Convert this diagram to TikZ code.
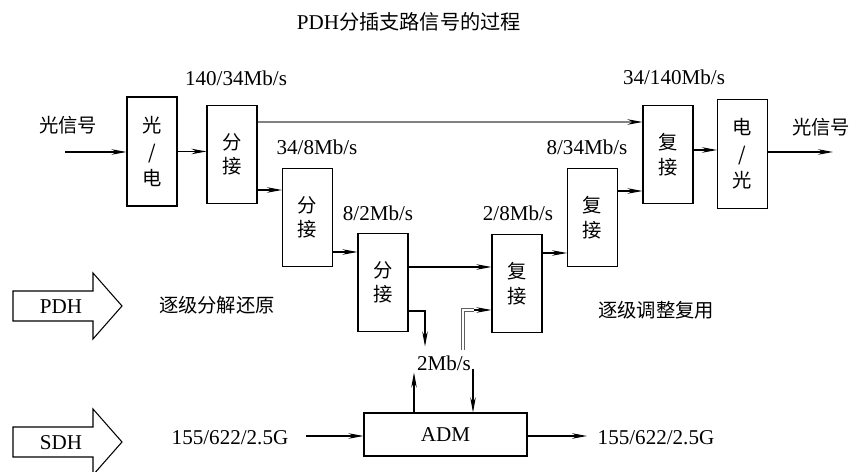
\documentclass[tikz,border=0pt]{standalone}
\usepackage{fontspec}
\setmainfont{Liberation Serif}
\newfontfamily\cjk{Noto Sans CJK SC}
\usetikzlibrary{positioning,arrows.meta,calc}
\definecolor{LineGray}{RGB}{130,130,130}
\definecolor{DarkGray}{RGB}{95,95,95}
\tikzset{
  arr/.style={-{Stealth[length=3mm,width=1.1mm,black]},line width=0.6pt},
  blk/.style={draw,line width=0.6pt,minimum width=1cm,minimum height=1.96cm,
    inner sep=0pt,align=center,font=\cjk\fontsize{11}{14}\selectfont},
  tallblk/.style={blk,minimum height=2.18cm,font=\cjk\fontsize{11}{15}\selectfont},
  ratelabel/.style={inner sep=1pt,font=\fontsize{12}{14}\selectfont},
  zhlabel/.style={inner sep=1pt,font=\cjk\fontsize{11}{13}\selectfont},
  bigarrow/.style={draw,line width=0.6pt}
}

\begin{document}
\begin{tikzpicture}[x=0.02cm,y=-0.02cm]
  \useasboundingbox (0,0) rectangle (850,472);
  \node[inner sep=1pt,font=\fontsize{12}{14}\selectfont] (title) at (409,22) {PDH{\cjk\fontsize{11.5}{14}\selectfont 分插支路信号的过程}};

  \node[tallblk] (oe) at (152,151.5) {光\\/\\电};
  \node[blk] (f1) at (232,154.5) {分\\接};
  \node[blk] (f2) at (307.5,217.5) {分\\接};
  \node[blk] (f3) at (383,282.5) {分\\接};
  \node[blk] (m1) at (517,283.5) {复\\接};
  \node[blk] (m2) at (592.5,217.5) {复\\接};
  \node[blk] (m3) at (668,154.5) {复\\接};
  \node[tallblk] (eo) at (742.5,154) {电\\/\\光};
  \node[draw,line width=0.6pt,minimum width=3.26cm,minimum height=0.86cm,
    font=\fontsize{12}{14}\selectfont] (adm) at (445.5,434.5) {ADM};

  \node[zhlabel] (inlab) at (68,125) {光信号};
  \node[zhlabel] (outlab) at (821,127) {光信号};
  \node[ratelabel] (r1) at (236,78) {140/34Mb/s};
  \node[ratelabel] (r2) at (317,147) {34/8Mb/s};
  \node[ratelabel] (r3) at (378,213) {8/2Mb/s};
  \node[ratelabel] (r4) at (674,77) {34/140Mb/s};
  \node[ratelabel] (r5) at (587,147) {8/34Mb/s};
  \node[ratelabel] (r6) at (518,213) {2/8Mb/s};
  \node[ratelabel] (rate) at (444,363) {2Mb/s};
  \node[zhlabel] (down) at (217,305) {逐级分解还原};
  \node[zhlabel] (up) at (656,310) {逐级调整复用};
  \node[ratelabel] (sdhin) at (230,438) {155/622/2.5G};
  \node[ratelabel] (sdhout) at (656,438) {155/622/2.5G};

  \draw[bigarrow] (13,291) -- (93,291) -- (93,273) -- (122,306) -- (93,339) -- (93,321) -- (13,321) -- cycle;
  \draw[bigarrow] (13,427) -- (93,427) -- (93,409) -- (122,442) -- (93,475) -- (93,457) -- (13,457) -- cycle;
  \node[ratelabel] (pdh) at (61,307) {PDH};
  \node[ratelabel] (sdh) at (61,443) {SDH};

  \coordinate (src) at (65,152);
  \coordinate (dst) at (833,152);
  \coordinate (sin) at (306,436);
  \coordinate (sout) at (587,436);
  \coordinate (gstart) at (463,350);

  \draw[arr] (src) -- (src -| oe.west);
  \draw[arr] (oe.east) -- (oe.east -| f1.west);
  \draw[arr] ([yshift=-0.71cm]f1.east) coordinate (a1) -- (a1 -| f2.west);
  \draw[arr,draw=LineGray] ([yshift=0.65cm]f1.east) -- ([yshift=0.65cm]m3.west);
  \draw[arr] ([yshift=-0.69cm]f2.east) coordinate (a2) -- (a2 -| f3.west);
  \draw[arr] ([yshift=0.31cm]f3.east) coordinate (a3) -- (a3 -| m1.west);
  \draw[arr] ([yshift=-0.57cm]f3.east) -| ([xshift=-0.38cm,yshift=0.14cm]rate.north);
  \draw[draw=DarkGray,line width=0.5pt,double=white,double distance=0.9pt] (gstart)
    |- ([xshift=-0.35cm,yshift=-0.53cm]m1.west) coordinate (g1);
  \draw[arr] (g1) -- ([yshift=-0.53cm]m1.west);
  \draw[arr] ([xshift=-0.63cm]adm.north) coordinate (u1) -- (u1 |- rate.south);
  \draw[arr] ([xshift=0.58cm,yshift=0.08cm]rate.south) coordinate (d1) -- (d1 |- adm.north);
  \draw[arr] ([yshift=0.61cm]m1.east) coordinate (a4) -- (a4 -| m2.west);
  \draw[arr] ([yshift=0.53cm]m2.east) coordinate (a5) -- (a5 -| m3.west);
  \draw[arr] ([yshift=0.09cm]m3.east) coordinate (a6) -- (a6 -| eo.west);
  \draw[arr] (eo.east |- dst) -- (dst);
  \draw[arr] (sin) -- (sin -| adm.west);
  \draw[arr] (adm.east |- sout) -- (sout);
\end{tikzpicture}
\end{document}
